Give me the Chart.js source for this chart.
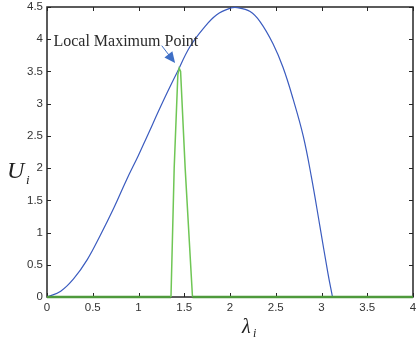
<!doctype html>
<html>
<head>
<meta charset="utf-8">
<title>U_i vs lambda_i</title>
<script src="https://cdn.jsdelivr.net/npm/chart.js@4"></script>
<style>
  body { margin: 0; background: #fff; }
</style>
</head>
<body>
<canvas id="myChart" width="416" height="346"></canvas>
<script>
  // blue curve U_i(lambda_i)
  const curveX = [0, 0.15, 0.29, 0.44, 0.58, 0.73, 0.87, 1.0, 1.09, 1.27, 1.42, 1.56, 1.71, 1.855, 2.0, 2.08, 2.22, 2.33, 2.47, 2.58, 2.69, 2.80, 2.89, 2.98, 3.07, 3.12]
  const curveU = [0, 0.09, 0.28, 0.58, 0.95, 1.38, 1.82, 2.20, 2.48, 3.04, 3.48, 3.88, 4.17, 4.38, 4.48, 4.49, 4.43, 4.27, 3.93, 3.56, 3.07, 2.50, 1.86, 1.12, 0.37, 0]

  // green spike (local maximum), zero elsewhere
  const peakX = [0, 1.355, 1.39, 1.43, 1.445, 1.46, 1.51, 1.59, 4]
  const peakU = [0, 0, 2.0, 3.45, 3.55, 3.5, 2.0, 0, 0]

  const xTicks = [0, 0.5, 1, 1.5, 2, 2.5, 3, 3.5, 4]
  const yTicks = [0, 0.5, 1, 1.5, 2, 2.5, 3, 3.5, 4, 4.5]

  const annotationText = 'Local Maximum Point'

  const toPoints = (xs, ys) => xs.map((x, i) => ({ x: x, y: ys[i] }))

  // box round the plot with ticks pointing inwards, matlab style
  const framePlugin = {
    id: 'frame',
    beforeDatasetsDraw(chart) {
      const c = chart.ctx
      const a = chart.chartArea
      const xs = chart.scales.x
      const ys = chart.scales.y
      c.save()
      c.strokeStyle = '#262626'
      c.lineWidth = 1
      c.beginPath()
      xTicks.forEach(v => {
        const px = Math.round(xs.getPixelForValue(v)) + 0.5
        c.moveTo(px, a.bottom); c.lineTo(px, a.bottom - 4)
        c.moveTo(px, a.top); c.lineTo(px, a.top + 4)
      })
      yTicks.forEach(v => {
        const py = Math.round(ys.getPixelForValue(v)) + 0.5
        c.moveTo(a.left, py); c.lineTo(a.left + 4, py)
        c.moveTo(a.right, py); c.lineTo(a.right - 4, py)
      })
      c.stroke()
      c.lineWidth = 1.5
      c.strokeRect(a.left, a.top, a.right - a.left, a.bottom - a.top)
      c.restore()
    },
    afterDatasetsDraw(chart) {
      const c = chart.ctx
      const xs = chart.scales.x
      const ys = chart.scales.y
      c.save()
      // axis labels
      c.fillStyle = '#222'
      c.textBaseline = 'alphabetic'
      c.font = 'italic 24px "Liberation Serif"'
      c.fillText('U', 7, 178)
      c.font = 'italic 13px "Liberation Serif"'
      c.fillText('i', 26, 184)
      c.font = 'italic 20px "Liberation Serif"'
      c.fillText('λ', 242, 333)
      c.font = 'italic 12px "Liberation Serif"'
      c.fillText('i', 253, 337)

      // annotation + arrow
      c.font = '16px "Liberation Serif"'
      c.fillStyle = '#2a2a2a'
      c.fillText(annotationText, xs.getPixelForValue(0.07), ys.getPixelForValue(3.9))
      const x0 = xs.getPixelForValue(1.254), y0 = ys.getPixelForValue(3.9)
      const x1 = xs.getPixelForValue(1.40), y1 = ys.getPixelForValue(3.63)
      const ang = Math.atan2(y1 - y0, x1 - x0)
      c.strokeStyle = '#3f6fc6'
      c.fillStyle = '#3f6fc6'
      c.lineWidth = 1
      c.beginPath()
      c.moveTo(x0, y0)
      c.lineTo(x1 - 8 * Math.cos(ang), y1 - 8 * Math.sin(ang))
      c.stroke()
      c.beginPath()
      c.moveTo(x1, y1)
      c.lineTo(x1 - 11 * Math.cos(ang) + 5 * Math.sin(ang), y1 - 11 * Math.sin(ang) - 5 * Math.cos(ang))
      c.lineTo(x1 - 11 * Math.cos(ang) - 5 * Math.sin(ang), y1 - 11 * Math.sin(ang) + 5 * Math.cos(ang))
      c.closePath()
      c.fill()
      c.restore()
    }
  }

  const ctx = document.getElementById('myChart').getContext('2d')
  const myChart = new Chart(ctx, {
    type: 'line',
    data: {
      datasets: [
        {
          label: 'spike',
          data: toPoints(peakX, peakU),
          borderColor: '#6fc655',
          borderWidth: 1.5,
          pointRadius: 0,
          tension: 0,
          clip: false,
          order: 0,
          segment: {
            borderColor: s => (s.p0.parsed.y === 0 && s.p1.parsed.y === 0) ? '#4e9a3c' : undefined,
            borderWidth: s => (s.p0.parsed.y === 0 && s.p1.parsed.y === 0) ? 2.5 : undefined,
          },
        },
        {
          label: 'U',
          data: toPoints(curveX, curveU),
          borderColor: '#3a5bbf',
          borderWidth: 1.2,
          pointRadius: 0,
          tension: 0.4,
          clip: false,
          order: 1,
        },
      ]
    },
    options: {
      responsive: false,
      animation: false,
      events: [],
      layout: { padding: { top: 7, right: 3, left: 0, bottom: 0 } },
      plugins: {
        legend: { display: false },
        tooltip: { enabled: false },
      },
      scales: {
        x: {
          type: 'linear',
          min: 0,
          max: 4,
          afterBuildTicks: s => { s.ticks = xTicks.map(v => ({ value: v })) },
          afterFit: s => { s.height = 49; s.paddingLeft = 0; s.paddingRight = 0 },
          grid: { display: false, drawTicks: false },
          border: { display: false },
          ticks: {
            padding: 4,
            color: '#333',
            font: { family: '"Liberation Sans"', size: 11.5 },
            maxRotation: 0,
            callback: v => String(v),
          },
        },
        y: {
          type: 'linear',
          min: 0,
          max: 4.5,
          afterBuildTicks: s => { s.ticks = yTicks.map(v => ({ value: v })) },
          afterFit: s => { s.width = 47; s.paddingTop = 0; s.paddingBottom = 0 },
          grid: { display: false, drawTicks: false },
          border: { display: false },
          ticks: {
            padding: 4,
            color: '#333',
            font: { family: '"Liberation Sans"', size: 11.5 },
            callback: v => String(v),
          },
        },
      },
    },
    plugins: [framePlugin],
  })
</script>
</body>
</html>
